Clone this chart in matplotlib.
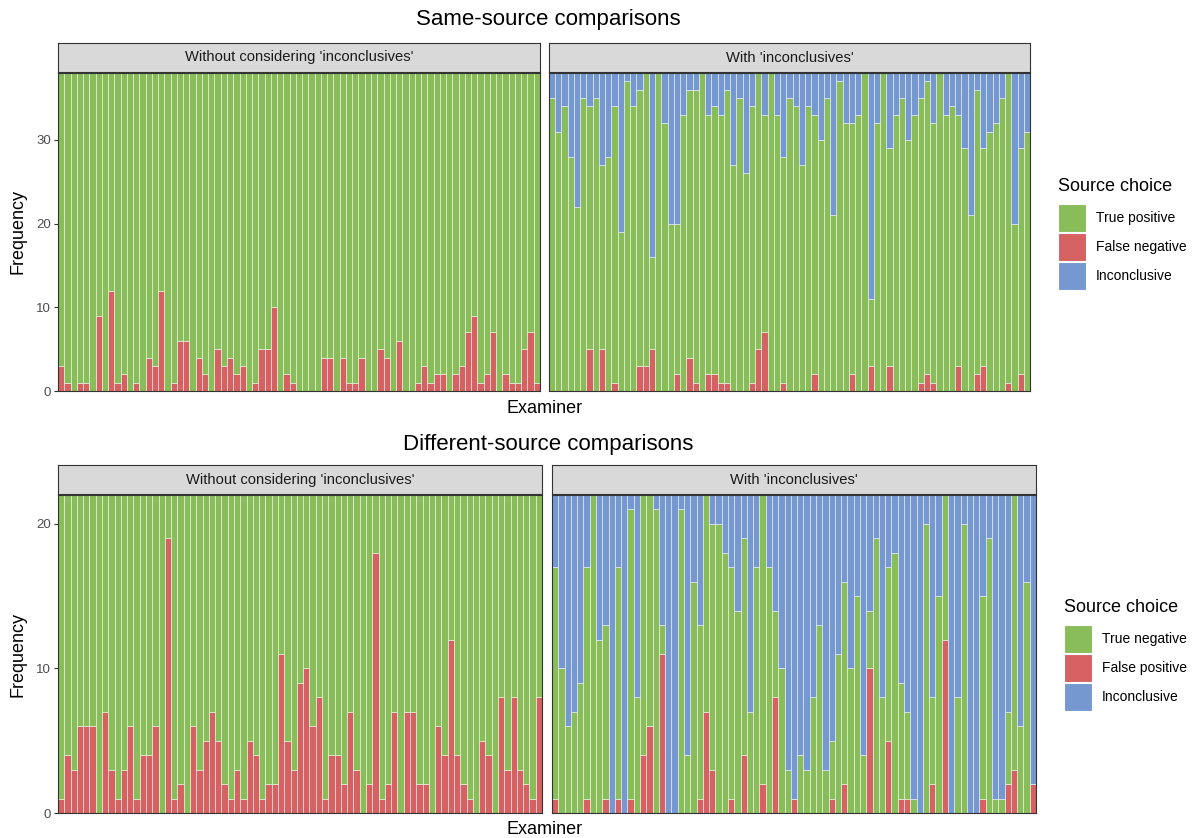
import numpy as np
import matplotlib
matplotlib.use("Agg")
import matplotlib.pyplot as plt
from matplotlib.patches import Rectangle

plt.rcParams['font.family'] = ['Liberation Sans', 'DejaVu Sans']

# 每位鉴定人的比较次数
n_same = 38
n_diff = 22
examiners = np.arange(1, 78)

# 同源比较：不考虑“不确定” —— 假阴性
fn_without = [3, 1, 0, 1, 1, 0, 9, 0, 12, 1, 2, 0, 1, 0, 4, 3, 12, 0, 1, 6,
              6, 0, 4, 2, 0, 5, 3, 4, 2, 3, 0, 1, 5, 5, 10, 0, 2, 1, 0, 0,
              0, 0, 4, 4, 0, 4, 1, 1, 4, 0, 0, 5, 4, 0, 6, 0, 0, 1, 3, 1,
              2, 2, 0, 2, 3, 7, 9, 1, 2, 7, 0, 2, 1, 1, 5, 7, 1]
# 同源比较：含“不确定”
fn_with = [0, 0, 0, 0, 0, 0, 5, 0, 5, 0, 1, 0, 0, 0, 3, 3, 5, 0, 0, 0,
           2, 0, 4, 1, 0, 2, 2, 1, 1, 0, 0, 0, 1, 5, 7, 0, 0, 1, 0, 0,
           0, 0, 2, 0, 0, 0, 0, 0, 2, 0, 0, 3, 0, 0, 3, 0, 0, 0, 0, 1,
           2, 1, 0, 0, 0, 3, 0, 0, 2, 3, 0, 0, 0, 1, 0, 2, 0]
inc_same = [3, 7, 4, 10, 16, 3, 4, 3, 11, 10, 4, 19, 1, 4, 2, 0, 22, 0, 6, 18,
            18, 5, 2, 2, 0, 5, 4, 5, 2, 11, 3, 12, 4, 0, 5, 0, 5, 10, 3, 4,
            11, 4, 5, 8, 3, 17, 1, 6, 6, 5, 0, 27, 6, 0, 9, 5, 3, 8, 5, 3,
            1, 6, 0, 5, 4, 5, 9, 17, 2, 9, 7, 6, 3, 0, 18, 9, 7]

# 异源比较：不考虑“不确定” —— 假阳性
fp_without = [1, 4, 3, 6, 6, 6, 0, 7, 3, 1, 3, 6, 1, 4, 4, 6, 0, 19, 1, 2,
              0, 6, 3, 5, 7, 5, 2, 1, 3, 1, 5, 4, 1, 2, 2, 11, 5, 3, 9, 10,
              6, 8, 1, 4, 4, 2, 7, 3, 0, 2, 18, 1, 2, 7, 0, 7, 7, 2, 2, 0,
              6, 4, 12, 4, 2, 1, 0, 5, 4, 0, 8, 3, 8, 3, 2, 1, 8]
# 异源比较：含“不确定”
fp_with = [1, 0, 0, 0, 0, 1, 0, 0, 1, 0, 1, 0, 1, 0, 4, 6, 0, 11, 0, 0,
           0, 0, 0, 1, 7, 3, 0, 0, 1, 0, 4, 0, 0, 2, 0, 8, 0, 0, 1, 0,
           0, 0, 0, 0, 1, 0, 2, 0, 0, 0, 10, 0, 0, 5, 0, 1, 1, 0, 0, 0,
           2, 0, 12, 0, 0, 0, 0, 0, 1, 0, 0, 0, 2, 3, 0, 0, 2]
inc_diff = [5, 12, 16, 15, 13, 5, 0, 10, 9, 22, 5, 22, 1, 14, 0, 0, 1, 9, 22, 22,
            1, 18, 6, 9, 0, 2, 2, 4, 5, 8, 3, 15, 5, 0, 5, 8, 12, 19, 21, 18,
            19, 14, 9, 19, 17, 11, 6, 12, 7, 18, 8, 3, 14, 5, 4, 13, 15, 21, 22, 2,
            14, 7, 0, 22, 14, 2, 22, 22, 7, 3, 21, 21, 15, 0, 16, 6, 20]

green = '#88BD5A'
red = '#D66163'
blue = '#7598D0'
edge = (1, 1, 1, 0.55)

W, H = 1200, 838
fig = plt.figure(figsize=(12, 8.38), dpi=100)


def px_axes(x0, y0, x1, y1):
    return fig.add_axes([x0 / W, 1 - y1 / H, (x1 - x0) / W, (y1 - y0) / H])


def panel(box, strip_text, layers, total, ticks, show_y):
    x0, y0, x1, y1 = box
    ax = px_axes(x0, y0, x1, y1)
    bottom = np.zeros(len(examiners))
    for vals, col in layers:
        vals = np.asarray(vals, dtype=float)
        ax.bar(examiners, vals, bottom=bottom, width=1.0, color=col,
               edgecolor=edge, linewidth=0.6)
        bottom = bottom + vals
    ax.set_xlim(0.5, len(examiners) + 0.5)
    ax.set_ylim(0, total)
    ax.set_xticks([])
    ax.set_yticks(ticks)
    if show_y:
        ax.tick_params(axis='y', length=3, width=0.8, color='#333333',
                       labelsize=9.5, labelcolor='#4D4D4D', pad=2)
    else:
        ax.tick_params(axis='y', length=0, labelleft=False)
    for s in ax.spines.values():
        s.set_color('#333333')
        s.set_linewidth(0.8)
    # 分面标签
    st = px_axes(x0, y0 - 30, x1, y0 - 1)
    st.set_facecolor('#D9D9D9')
    st.set_xticks([])
    st.set_yticks([])
    for s in st.spines.values():
        s.set_color('#333333')
        s.set_linewidth(0.8)
    st.text(0.5, 0.5, strip_text, ha='center', va='center', fontsize=10.6,
            color='#1A1A1A', transform=st.transAxes)
    return ax


def legend(x, y_title, labels, colors):
    fig.text(x / W, 1 - y_title / H, 'Source choice', fontsize=13,
             ha='left', va='center')
    for i, (lab, col) in enumerate(zip(labels, colors)):
        ytop = y_title + 18 + i * 29
        fig.add_artist(Rectangle((x / W, 1 - (ytop + 28) / H), 28 / W, 28 / H,
                                 transform=fig.transFigure, facecolor=col,
                                 edgecolor='white', linewidth=0.8))
        fig.text((x + 38) / W, 1 - (ytop + 14) / H, lab, fontsize=10,
                 ha='left', va='center')


without_lab = "Without considering 'inconclusives'"
with_lab = "With 'inconclusives'"

# 同源比较
tp_without = n_same - np.array(fn_without)
tp_with = n_same - np.array(fn_with) - np.array(inc_same)
panel((58, 73, 540, 391), without_lab,
      [(fn_without, red), (tp_without, green)], n_same, [0, 10, 20, 30], True)
panel((549, 73, 1030, 391), with_lab,
      [(fn_with, red), (tp_with, green), (inc_same, blue)], n_same, [0, 10, 20, 30], False)
fig.text(548 / W, 1 - 20 / H, 'Same-source comparisons', fontsize=16, ha='center', va='center')
fig.text(545 / W, 1 - 408 / H, 'Examiner', fontsize=13, ha='center', va='center')
fig.text(18 / W, 1 - 231 / H, 'Frequency', fontsize=13, ha='center', va='center', rotation=90)
legend(1058, 186, ['True positive', 'False negative', 'Inconclusive'], [green, red, blue])

# 异源比较
tn_without = n_diff - np.array(fp_without)
tn_with = n_diff - np.array(fp_with) - np.array(inc_diff)
panel((58, 495, 542, 813), without_lab,
      [(fp_without, red), (tn_without, green)], n_diff, [0, 10, 20], True)
panel((552, 495, 1036, 813), with_lab,
      [(fp_with, red), (tn_with, green), (inc_diff, blue)], n_diff, [0, 10, 20], False)
fig.text(548 / W, 1 - 444 / H, 'Different-source comparisons', fontsize=16, ha='center', va='center')
fig.text(545 / W, 1 - 829 / H, 'Examiner', fontsize=13, ha='center', va='center')
fig.text(18 / W, 1 - 654 / H, 'Frequency', fontsize=13, ha='center', va='center', rotation=90)
legend(1064, 607, ['True negative', 'False positive', 'Inconclusive'], [green, red, blue])

fig.savefig('out.png', dpi=100)
